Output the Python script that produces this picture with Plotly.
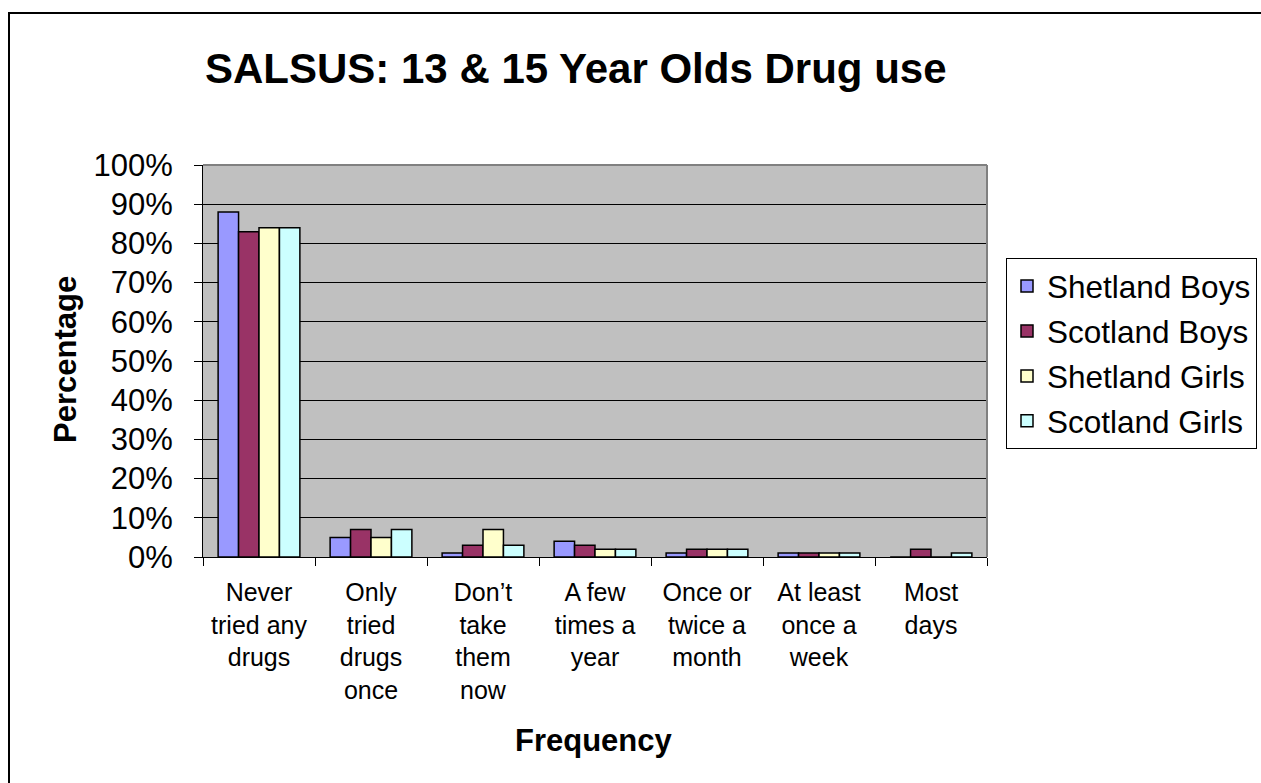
import plotly.graph_objects as go

categories = ["Never<br>tried any<br>drugs", "Only<br>tried<br>drugs<br>once", "Don’t<br>take<br>them<br>now",
              "A few<br>times a<br>year", "Once or<br>twice a<br>month", "At least<br>once a<br>week", "Most<br>days"]
shetland_boys = [88, 5, 1, 4, 1, 1, 0]
scotland_boys = [83, 7, 3, 3, 2, 1, 2]
shetland_girls = [84, 5, 7, 2, 2, 1, 0]
scotland_girls = [84, 7, 3, 2, 2, 1, 1]

series = [("Shetland Boys", shetland_boys, "#9999FF"),
          ("Scotland Boys", scotland_boys, "#993366"),
          ("Shetland Girls", shetland_girls, "#FFFFCC"),
          ("Scotland Girls", scotland_girls, "#CCFFFF")]

FONT = "Arial, Liberation Sans, sans-serif"
W, H = 1261, 783
L, R, T, B = 203, 987, 165, 557

fig = go.Figure()
for i, (name, vals, col) in enumerate(series):
    fig.add_trace(go.Bar(x=categories, y=vals, name=name, legendgroup=str(i),
                         marker=dict(color=col, line=dict(color="black", width=1.5))))

def px(x):
    return (x - L) / (R - L)

def py(y):
    return (B - y) / (B - T)

fig.update_layout(
    width=W, height=H,
    margin=dict(l=L, r=W - R, t=T, b=H - B, pad=0, autoexpand=False),
    paper_bgcolor="white", plot_bgcolor="#C0C0C0",
    font=dict(family=FONT, color="black"),
    barmode="group", bargap=0.27, bargroupgap=0,
    showlegend=True,
    legend=dict(x=px(1006), y=py(258), xanchor="left", yanchor="top",
                font=dict(size=31.5, family=FONT), bordercolor="black", borderwidth=1,
                bgcolor="white", traceorder="grouped", tracegroupgap=1),
    xaxis=dict(showline=True, linecolor="black", linewidth=1, ticks="outside", ticklen=8,
               tickcolor="black", tickson="boundaries", tickfont=dict(size=25, family=FONT),
               ticklabelstandoff=13, showgrid=False, fixedrange=True),
    yaxis=dict(range=[0, 100], dtick=10, ticksuffix="%", showline=True, linecolor="black",
               linewidth=1, ticks="outside", ticklen=8, tickcolor="black",
               tickfont=dict(size=31, family=FONT), ticklabelstandoff=15,
               showgrid=True, gridcolor="black",
               gridwidth=1, zeroline=False, fixedrange=True),
    annotations=[
        dict(text="<b>SALSUS: 13 & 15 Year Olds Drug use</b>", x=px(576), y=py(68), xref="paper",
             yref="paper", xanchor="center", yanchor="middle", showarrow=False,
             font=dict(size=42, family=FONT)),
        dict(text="<b>Frequency</b>", x=px(594), y=py(740), xref="paper", yref="paper",
             xanchor="center", yanchor="middle", showarrow=False, font=dict(size=31, family=FONT)),
        dict(text="<b>Percentage</b>", x=px(65), y=py(360), xref="paper", yref="paper",
             xanchor="center", yanchor="middle", showarrow=False, textangle=-90,
             font=dict(size=31, family=FONT)),
    ],
    shapes=[
        dict(type="line", xref="paper", yref="paper", x0=0, x1=1, y0=1, y1=1,
             line=dict(color="#808080", width=2)),
        dict(type="line", xref="paper", yref="paper", x0=1, x1=1, y0=0, y1=1,
             line=dict(color="#808080", width=2)),
        dict(type="rect", xref="paper", yref="paper", x0=px(9), y0=py(13), x1=px(1290), y1=py(800),
             line=dict(color="black", width=2)),
    ],
)

fig.write_html("out.html")
